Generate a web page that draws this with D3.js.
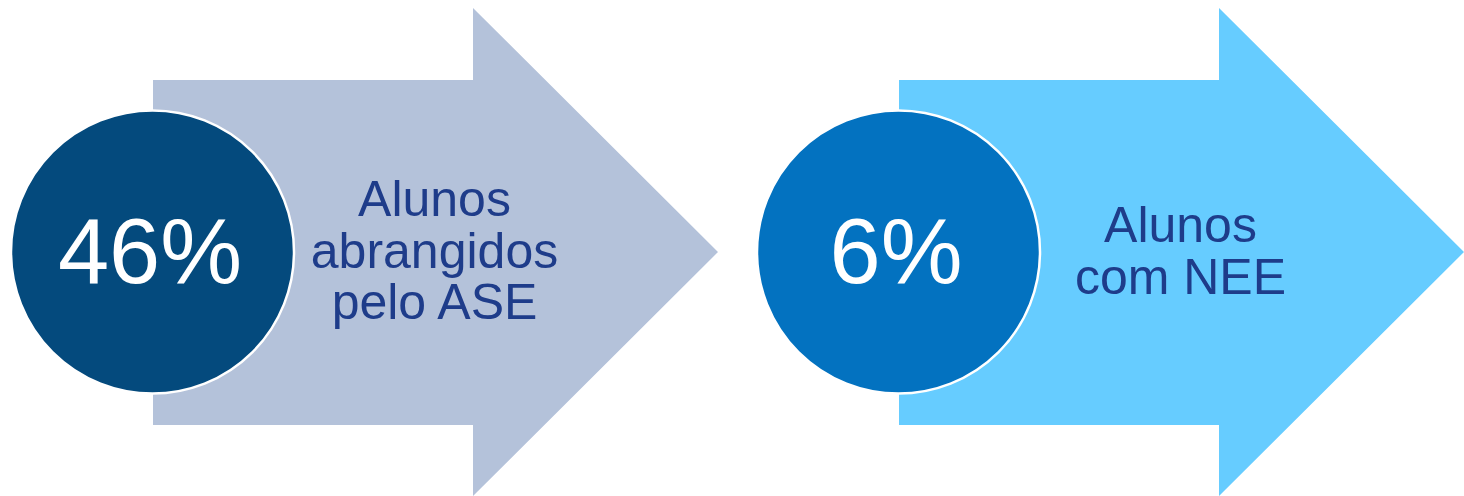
<!DOCTYPE html>
<html>
<head>
<meta charset="utf-8">
<script src="https://cdn.jsdelivr.net/npm/d3@7"></script>
<style>
  html, body { margin: 0; padding: 0; background: #ffffff; }
  svg { display: block; }
  text { font-family: "Liberation Sans", Arial, sans-serif; }
</style>
</head>
<body>
<svg id="chart" width="1464" height="496"></svg>
<script>
// ---- data ----
const categories = ["ASE", "NEE"];
const values = [46, 6];
const labelLines = [
  ["Alunos", "abrangidos", "pelo ASE"],
  ["Alunos", "com NEE"]
];
const circleColors = ["#044a7d", "#0372c0"];
const arrowColors = ["#b4c2da", "#66ccff"];
const textColor = "#1e3c8a";

// ---- layout ----
const svg = d3.select("#chart");

const groupX = d3.scaleBand().domain(categories).range([0, 1492]).padding(0);
const cy = 252;

const groups = svg.selectAll("g.item")
  .data(categories.map((c, i) => ({ c, i, v: values[i], lines: labelLines[i] })))
  .join("g")
  .attr("class", "item")
  .attr("transform", d => `translate(${groupX(d.c)},0)`);

// arrow shape
const shaftL = 153, shaftR = 473, shaftT = 80, shaftB = 425;
const headT = 8, headB = 496, tipX = 718;
const arrowPts = [
  [shaftL, shaftT], [shaftR, shaftT], [shaftR, headT], [tipX, cy],
  [shaftR, headB], [shaftR, shaftB], [shaftL, shaftB]
];
groups.append("path")
  .attr("d", d3.line()(arrowPts) + "Z")
  .attr("fill", d => arrowColors[d.i]);

// circle
groups.append("circle")
  .attr("cx", 152.5)
  .attr("cy", cy)
  .attr("r", 141.5)
  .attr("fill", d => circleColors[d.i])
  .attr("stroke", "#ffffff")
  .attr("stroke-width", 2.5);

// value text
groups.append("text")
  .attr("x", d => d.i === 0 ? 150 : 150)
  .attr("y", 283)
  .attr("text-anchor", "middle")
  .attr("font-size", 92)
  .attr("fill", "#ffffff")
  .text(d => d.v + "%");

// label text
const lineH = 51.5;
groups.append("text")
  .attr("text-anchor", "middle")
  .attr("font-size", 50)
  .attr("fill", textColor)
  .each(function(d) {
    const firstBase = d.i === 0 ? 216 : 242;
    d3.select(this).selectAll("tspan")
      .data(d.lines)
      .join("tspan")
      .attr("x", 434.5)
      .attr("y", (l, k) => firstBase + k * lineH)
      .text(l => l);
  });
</script>
</body>
</html>
